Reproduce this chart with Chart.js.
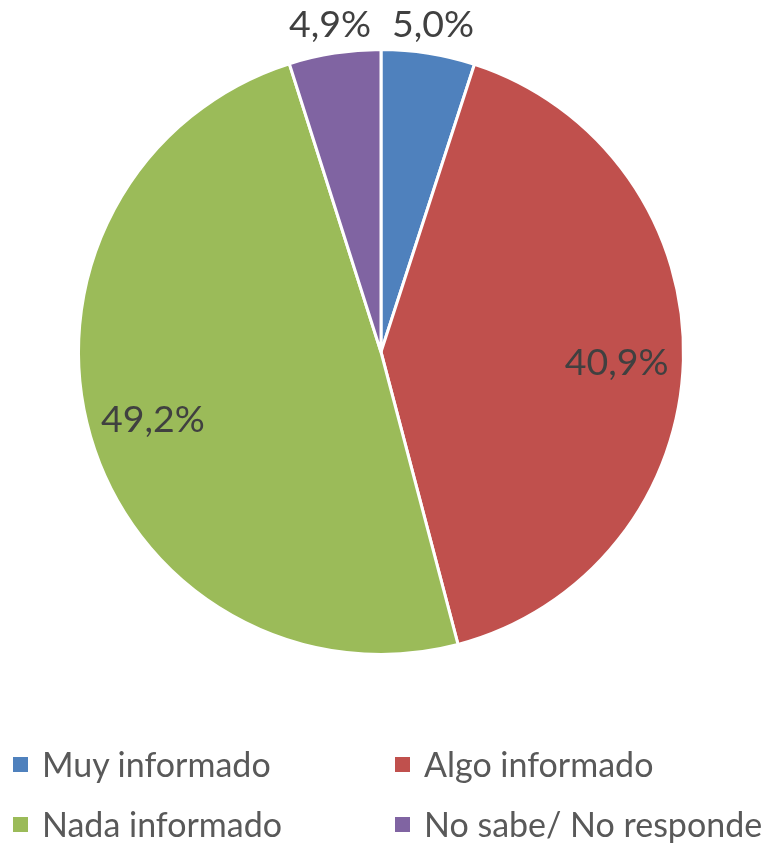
<!DOCTYPE html>
<html>
<head>
<meta charset="utf-8">
<script src="https://cdn.jsdelivr.net/npm/chart.js@4/dist/chart.umd.min.js"></script>
<style>
  html, body { margin: 0; padding: 0; background: #fff; }
  #wrap { position: relative; width: 768px; height: 844px; overflow: hidden; }
  #chart { position: absolute; left: 0; top: 0; }
  #legend {
    position: absolute; left: 13px; top: 734px;
    display: grid; grid-template-columns: 382px auto; grid-auto-rows: 60px;
    font-family: Lato, "Open Sans", sans-serif; font-size: 34px; color: #595959;
  }
  .item { display: flex; align-items: center; line-height: 1; white-space: nowrap; }
  .swatch { width: 15px; height: 15px; margin-right: 14px; flex: none; }
</style>
</head>
<body>
<div id="wrap">
  <canvas id="chart" width="768" height="844"></canvas>
  <div id="legend"></div>
</div>
<script>
const categories = ['Muy informado', 'Algo informado', 'Nada informado', 'No sabe/ No responde'];
const shares = [5.0, 40.9, 49.2, 4.9];
const colors = ['#4F81BD', '#C0504D', '#9BBB59', '#8064A2'];

// where each percentage sits: fraction of the radius, optional fixed angle (deg, canvas)
const labelPlacement = [
  { r: 1.1 },
  { r: 0.78, angle: 2.4 },
  { r: 0.785 },
  { r: 1.1 }
];

function formatShare(v) {
  return v.toFixed(1).replace('.', ',') + '%';
}

const sliceLabels = {
  id: 'sliceLabels',
  afterDatasetsDraw(chart) {
    const ctx = chart.ctx;
    const size = 37.5;
    ctx.save();
    ctx.font = `${size}px Lato, "Open Sans", sans-serif`;
    ctx.fillStyle = '#404040';
    ctx.textAlign = 'center';
    ctx.textBaseline = 'alphabetic';
    chart.getDatasetMeta(0).data.forEach((arc, i) => {
      const p = arc.getProps(['x', 'y', 'startAngle', 'endAngle', 'outerRadius'], true);
      const place = labelPlacement[i] || { r: 0.7 };
      const angle = place.angle !== undefined ? place.angle * Math.PI / 180 : (p.startAngle + p.endAngle) / 2;
      const x = p.x + Math.cos(angle) * p.outerRadius * place.r;
      const y = p.y + Math.sin(angle) * p.outerRadius * place.r;
      ctx.fillText(formatShare(shares[i]), x, y + size * 0.717 / 2);
    });
    ctx.restore();
  }
};

new Chart(document.getElementById('chart'), {
  type: 'pie',
  data: {
    labels: categories,
    datasets: [{
      data: shares,
      backgroundColor: colors,
      borderColor: '#ffffff',
      borderWidth: 3
    }]
  },
  options: {
    responsive: false,
    animation: false,
    layout: { padding: { left: 77, right: 83, top: 48, bottom: 188 } },
    plugins: {
      legend: { display: false },
      tooltip: { enabled: false }
    }
  },
  plugins: [sliceLabels]
});

const legendEl = document.getElementById('legend');
categories.forEach((name, i) => {
  const item = document.createElement('div');
  item.className = 'item';
  item.innerHTML = `<span class="swatch" style="background:${colors[i]}"></span><span>${name}</span>`;
  legendEl.appendChild(item);
});
</script>
</body>
</html>
